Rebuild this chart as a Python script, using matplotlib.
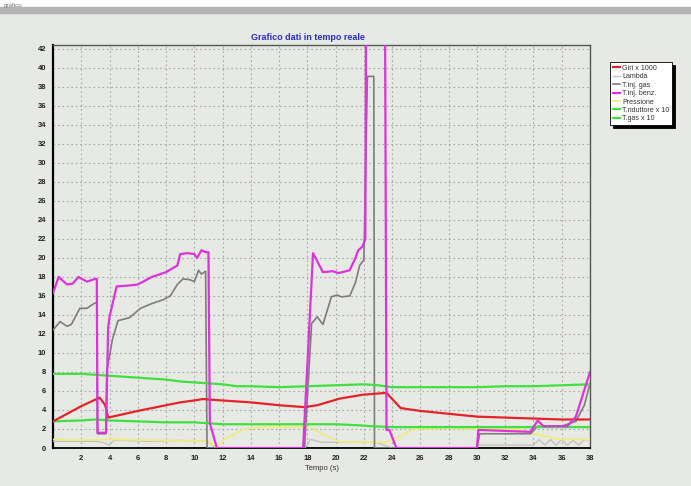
import matplotlib.pyplot as plt
from matplotlib.patches import Rectangle

# tempo (s) e valori
giri_x = [0, 1, 2, 3.3, 3.7, 3.9, 5.4, 6, 7, 8, 9, 10, 10.6, 12, 14, 16, 17.8, 18.7, 20.3, 21.9, 23.6, 24.6, 26, 28, 30, 32, 34, 36, 38]
giri_y = [2.8, 3.6, 4.4, 5.3, 4.5, 3.2, 3.7, 3.9, 4.2, 4.5, 4.8, 5.0, 5.15, 5.0, 4.8, 4.5, 4.3, 4.5, 5.2, 5.6, 5.8, 4.2, 3.9, 3.6, 3.3, 3.2, 3.1, 3.0, 3.0]

lambda_x = [0, 3, 3.5, 4, 4.3, 5, 7, 9, 11, 11.5, 17.8, 18.0, 18.2, 19, 21, 22.6, 23, 24, 29.9, 30.1, 32, 34, 34.4, 34.8, 35.2, 35.6, 36, 36.4, 36.8, 37.2, 37.6, 38]
lambda_y = [0.7, 0.7, 0.6, 0.3, 0.8, 0.8, 0.7, 0.8, 0.7, 0, 0, 0.3, 0.9, 0.6, 0.6, 0.6, 0.5, 0, 0, 0.3, 0.3, 0.3, 0.9, 0.3, 0.9, 0.3, 0.9, 0.3, 0.8, 0.3, 0.9, 0.8]

gas_x = [0, 0.5, 1.0, 1.3, 1.9, 2.4, 2.9, 3.1, 3.15, 3.75, 3.8, 4.2, 4.6, 5.4, 6.2, 7.0, 7.8, 8.3, 8.8, 9.2, 9.7, 10.0, 10.3, 10.5, 10.8, 10.9, 17.8, 18.3, 18.7, 19.1, 19.7, 20.1, 20.4, 21.0, 21.4, 21.7, 22.0, 22.25, 22.7, 22.75, 30.0, 30.2, 33.8, 34.3, 35, 36, 37, 37.6, 38]
gas_y = [12.4, 13.3, 12.8, 13.0, 14.7, 14.7, 15.2, 15.3, 1.5, 1.5, 8.0, 11.4, 13.4, 13.7, 14.7, 15.2, 15.6, 16.0, 17.2, 17.8, 17.7, 17.5, 18.7, 18.3, 18.6, 0, 0, 13.1, 13.8, 13.0, 15.9, 16.1, 15.9, 16.0, 17.4, 19.2, 19.8, 39.1, 39.1, 0, 0, 1.5, 1.5, 2.3, 2.2, 2.3, 2.8, 4.5, 6.8]

benz_x = [0, 0.4, 1.0, 1.4, 1.8, 2.4, 3.0, 3.1, 3.15, 3.75, 3.9, 4.0, 4.5, 5.4, 6, 7, 8, 8.8, 9.0, 9.5, 10.0, 10.2, 10.5, 10.8, 11.0, 11.1, 11.6, 17.7, 18.4, 19.1, 19.8, 20.2, 21.0, 21.4, 21.6, 21.9, 22.1, 22.15, 23.5, 23.6, 23.8, 24.3, 30.0, 30.1, 33.8, 34.3, 34.7, 36.4, 37.0, 37.6, 38]
benz_y = [16.3, 18.0, 17.2, 17.3, 18.0, 17.5, 17.8, 17.8, 1.6, 1.6, 12.6, 13.8, 17.0, 17.1, 17.2, 18.0, 18.5, 19.2, 20.4, 20.5, 20.4, 20.0, 20.8, 20.6, 20.6, 2.6, 0, 0, 20.5, 18.5, 18.6, 18.4, 18.7, 20.0, 20.8, 21.2, 22.0, 44, 44, 1.9, 1.9, 0, 0, 1.9, 1.7, 2.9, 2.3, 2.3, 3.3, 6.1, 8.0]

press_x = [0, 2, 3, 4, 6, 8, 10, 11, 11.6, 12, 13, 13.5, 15, 17.5, 18.2, 19.1, 20.3, 22, 23.5, 24.5, 25.5, 28, 30, 33, 34, 35.5, 36, 38]
press_y = [0.9, 0.85, 0.85, 0.9, 0.85, 0.8, 0.75, 0.7, 0.1, 0.8, 1.6, 2.0, 2.2, 2.2, 2.2, 1.4, 0.65, 0.6, 0.6, 1.2, 2.0, 2.1, 2.0, 2.0, 1.5, 1.0, 0.9, 0.9]

trid_x = [0, 2, 3, 4, 6, 8, 9, 10, 11, 12, 13, 14, 16, 18, 20, 22, 23, 24, 26, 28, 30, 32, 34, 36, 38]
trid_y = [7.8, 7.8, 7.7, 7.6, 7.4, 7.2, 7.0, 6.9, 6.8, 6.7, 6.5, 6.5, 6.4, 6.5, 6.6, 6.7, 6.6, 6.4, 6.4, 6.4, 6.4, 6.5, 6.5, 6.6, 6.7]

tgas_x = [0, 2, 3, 4, 6, 8, 10, 12, 14, 16, 18, 20, 21.5, 22.5, 24, 26, 28, 30, 32, 34, 36, 38]
tgas_y = [2.8, 2.9, 3.0, 2.9, 2.8, 2.7, 2.7, 2.5, 2.5, 2.5, 2.5, 2.5, 2.4, 2.3, 2.2, 2.2, 2.2, 2.2, 2.2, 2.2, 2.2, 2.2]

bg = '#e7e9e5'
fig = plt.figure(figsize=(6.91, 4.86), dpi=100, facecolor=bg)
plt.rcParams['font.family'] = ['Liberation Sans', 'DejaVu Sans']

# barra della finestra in alto
fig.patches.append(Rectangle((0, 1 - 7 / 486), 1, 7 / 486, transform=fig.transFigure, color='white', zorder=0))
fig.patches.append(Rectangle((0, 1 - 13 / 486), 1, 6 / 486, transform=fig.transFigure, color='#b4b4b4', zorder=0))
fig.text(4 / 691, 1 - 6 / 486, 'grafico', fontsize=4.5, color='#777777', va='center')

ax = fig.add_axes([53 / 691, 38 / 486, 537 / 691, 403 / 486])
ax.set_facecolor(bg)

ax.plot(giri_x, giri_y, color='#e4232a', lw=1.6, label='Giri x 1000', zorder=5)
ax.plot(lambda_x, lambda_y, color='#c2c2c2', lw=1.0, label='Lambda', zorder=3)
ax.plot(gas_x, gas_y, color='#7d7d7d', lw=1.2, label='T.inj. gas', zorder=4)
ax.plot(benz_x, benz_y, color='#dd33dd', lw=1.6, label='T.inj. benz.', zorder=6)
ax.plot(press_x, press_y, color='#f0ec7e', lw=1.3, label='Pressione', zorder=3)
ax.plot(trid_x, trid_y, color='#3fe03f', lw=1.6, label='T.riduttore x 10', zorder=4)
ax.plot(tgas_x, tgas_y, color='#3fe03f', lw=1.6, label='T.gas x 10', zorder=4)

ax.set_xlim(0, 38)
ax.set_ylim(0, 42.4)
ax.set_xticks(range(2, 39, 2))
ax.set_yticks(range(0, 43, 2))
ax.tick_params(length=0, labelsize=5.5, pad=5)
for lab in ax.get_xticklabels() + ax.get_yticklabels():
    lab.set_fontweight('bold')
    lab.set_color('#222222')
ax.grid(True, color='#a8a8a8', linestyle=(0, (1.5, 2.5)), linewidth=0.8)

ax.spines['left'].set_linewidth(1.6)
ax.spines['left'].set_color('black')
ax.spines['bottom'].set_linewidth(1.3)
ax.spines['bottom'].set_linestyle((0, (3, 1)))
ax.spines['top'].set_color('#555555')
ax.spines['right'].set_color('#555555')
ax.spines['top'].set_linewidth(1.0)
ax.spines['right'].set_linewidth(1.0)

ax.set_xlabel('Tempo (s)', fontsize=5.5, color='#333333', labelpad=2)
fig.text(308 / 691, 1 - 38 / 486, 'Grafico dati in tempo reale', fontsize=6.5,
         fontweight='bold', color='#2b2bd0', ha='center', va='center')

leg = ax.legend(loc='upper left', bbox_to_anchor=(610 / 691, 1 - 62 / 486),
                bbox_transform=fig.transFigure, fontsize=5.1, frameon=True,
                fancybox=False, shadow={'color': 'black', 'alpha': 1},
                handlelength=1.0, handletextpad=0.3, labelspacing=0.2,
                borderpad=0.4, borderaxespad=0)
leg.get_frame().set_edgecolor('black')
leg.get_frame().set_linewidth(0.6)
leg.get_frame().set_facecolor('white')
for t in leg.get_texts():
    t.set_color('#333333')

fig.savefig('out.png', dpi=100, facecolor=bg)
